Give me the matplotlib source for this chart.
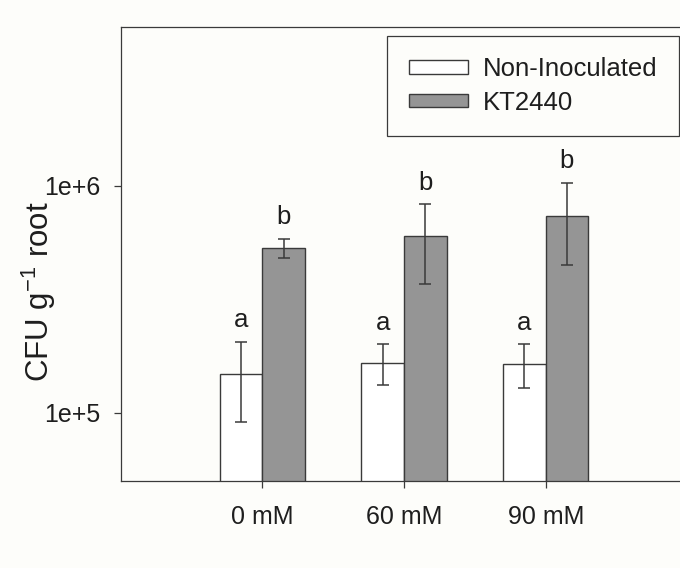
import numpy as np
import matplotlib
matplotlib.use("Agg")
import matplotlib.pyplot as plt
from matplotlib.patches import Patch

plt.rcParams['font.family'] = ['Liberation Sans', 'DejaVu Sans']
plt.rcParams['mathtext.fontset'] = 'custom'
plt.rcParams['mathtext.rm'] = 'Liberation Sans'
plt.rcParams['mathtext.it'] = 'Liberation Sans'

# Data
categories = ["0 mM", "60 mM", "90 mM"]
series_names = ["Non-Inoculated", "KT2440"]
non_inoculated = [1.48e5, 1.66e5, 1.64e5]
non_inoculated_err = [5.7e4, 3.4e4, 3.6e4]
kt2440 = [5.33e5, 5.98e5, 7.37e5]
kt2440_err = [5.2e4, 2.3e5, 2.9e5]
letters_non = ["a", "a", "a"]
letters_kt = ["b", "b", "b"]
yticks = [1e5, 1e6]
ytick_labels = ["1e+5", "1e+6"]

bg = '#fdfdfa'
edge = '#3a3a3a'
gray = '#959595'
txt = '#1e1e1e'

fig = plt.figure(figsize=(6.8, 5.68), dpi=100, facecolor=bg)
W, H = 680, 568
left, right, top, bottom = 120.6, 687.4, 27, 481
ax = fig.add_axes([left / W, 1 - bottom / H, (right - left) / W, (bottom - top) / H])
ax.set_facecolor(bg)

x = np.arange(1, len(categories) + 1)
bw = 0.3
ekw = dict(ecolor=edge, elinewidth=1.1, capsize=4.5, capthick=1.1)
ax.bar(x - bw / 2, non_inoculated, bw, color='white', edgecolor=edge, linewidth=1.0,
       yerr=non_inoculated_err, error_kw=ekw, zorder=2)
ax.bar(x + bw / 2, kt2440, bw, color=gray, edgecolor=edge, linewidth=1.0,
       yerr=kt2440_err, error_kw=ekw, zorder=2)

for xi, v, e, t in zip(x - bw / 2, non_inoculated, non_inoculated_err, letters_non):
    ax.annotate(t, (xi, v + e), xytext=(0, 10.5), textcoords='offset points',
                ha='center', va='baseline', fontsize=18.5, color=txt)
for xi, v, e, t in zip(x + bw / 2, kt2440, kt2440_err, letters_kt):
    ax.annotate(t, (xi, v + e), xytext=(0, 10.5), textcoords='offset points',
                ha='center', va='baseline', fontsize=18.5, color=txt)

ax.set_yscale('log')
ax.set_ylim(5e4, 5e6)
ax.set_xlim(0, 4)
ax.set_yticks(yticks)
ax.set_yticklabels(ytick_labels)
ax.yaxis.set_minor_locator(matplotlib.ticker.NullLocator())
ax.set_xticks(x)
ax.set_xticklabels(categories)

for s in ax.spines.values():
    s.set_color(edge)
    s.set_linewidth(0.9)
ax.tick_params(axis='both', direction='out', length=4.8, width=0.9, color=edge,
               labelsize=18, labelcolor=txt)
ax.tick_params(axis='x', pad=12.5)
ax.tick_params(axis='y', pad=10)

fig.text(39 / W, 1 - 291.5 / H, r'CFU g$^{-1}$ root', rotation=90,
         ha='center', va='center', fontsize=22.5, color=txt)

handles = [Patch(facecolor='white', edgecolor=edge, linewidth=1.0),
           Patch(facecolor=gray, edgecolor=edge, linewidth=1.0)]
leg = ax.legend(handles, series_names, loc='upper right',
                bbox_to_anchor=(679 / W, 1 - 36 / H), bbox_transform=fig.transFigure,
                fontsize=18.5, frameon=True, fancybox=False, framealpha=1,
                facecolor=bg, edgecolor=edge, borderpad=0.82, labelspacing=0.38,
                handlelength=2.33, handleheight=0.42, handletextpad=0.58,
                borderaxespad=0)
leg.get_frame().set_linewidth(0.9)
for t in leg.get_texts():
    t.set_color(txt)

fig.savefig('out.png', dpi=100, facecolor=bg)
